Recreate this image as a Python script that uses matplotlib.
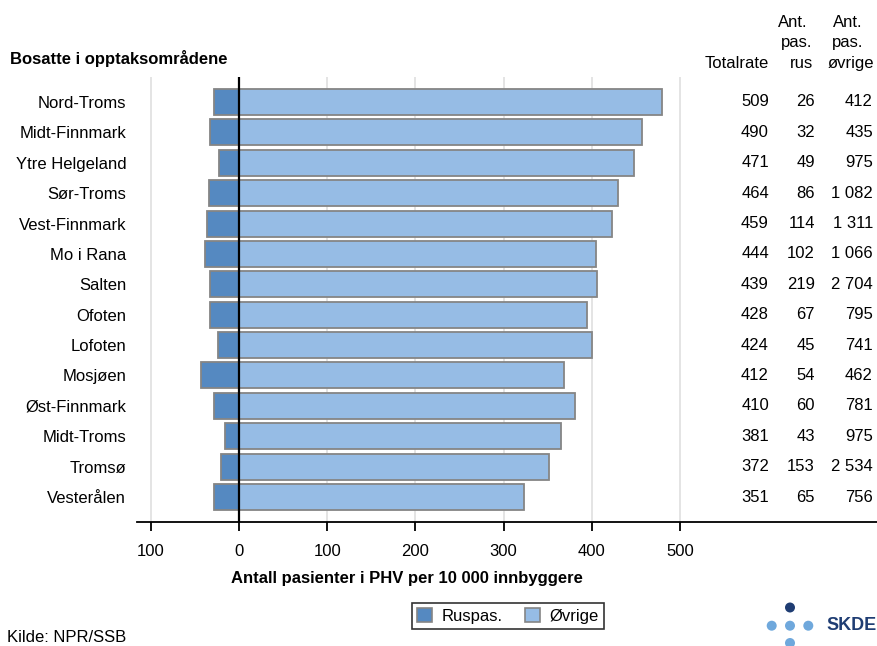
import matplotlib
matplotlib.use("Agg")
import matplotlib.pyplot as plt
from matplotlib.patches import Patch, Ellipse
from matplotlib.ticker import FixedLocator, FixedFormatter

plt.rcParams["font.family"] = ["Liberation Sans", "DejaVu Sans"]

# Data: rates per 10 000 inhabitants and patient counts
regions = ["Nord-Troms", "Midt-Finnmark", "Ytre Helgeland", "Sør-Troms",
           "Vest-Finnmark", "Mo i Rana", "Salten", "Ofoten", "Lofoten",
           "Mosjøen", "Øst-Finnmark", "Midt-Troms", "Tromsø", "Vesterålen"]
rate_rus = [29, 33, 23, 34, 36, 39, 33, 33, 24, 43, 29, 16, 21, 28]
rate_ovrige = [480, 457, 448, 430, 423, 405, 406, 395, 400, 369, 381, 365, 351, 323]
n_rus = [26, 32, 49, 86, 114, 102, 219, 67, 45, 54, 60, 43, 153, 65]
n_ovrige = [412, 435, 975, 1082, 1311, 1066, 2704, 795, 741, 462, 781, 975, 2534, 756]
tick_values = [-100, 0, 100, 200, 300, 400, 500]
tick_labels = ["100", "0", "100", "200", "300", "400", "500"]

W, H = 878, 646
FS = 12
fig = plt.figure(figsize=(W / 100, H / 100), dpi=100)

def fx(px):
    return px / W

def fy(py):
    return 1 - py / H

ax = fig.add_axes([fx(137), fy(522), fx(878) - fx(137), fy(77) - fy(522)])

dark = "#5589C1"
light = "#96BCE5"
edge = "#858585"

y = list(range(len(regions)))
ax.barh(y, [-v for v in rate_rus], height=0.855, color=dark, edgecolor=edge,
        linewidth=1.3, zorder=2)
ax.barh(y, rate_ovrige, height=0.855, color=light, edgecolor=edge,
        linewidth=1.3, zorder=2)

for g in [-100, 100, 200, 300, 400, 500]:
    ax.axvline(g, color="#DCDCDC", linewidth=1.1, zorder=0)
ax.axvline(0, color="black", linewidth=1.6, zorder=3)

ax.set_xlim(-115.9, 724.7)
ax.set_ylim(13.82, -0.82)

ax.xaxis.set_major_locator(FixedLocator(tick_values))
ax.xaxis.set_major_formatter(FixedFormatter(tick_labels))
ax.tick_params(axis="x", direction="out", length=6.5, width=1.3, pad=9,
               labelsize=FS, color="black")
ax.set_yticks(y)
ax.set_yticklabels(regions)
ax.tick_params(axis="y", length=0, pad=7.8, labelsize=FS)

for side in ["left", "right", "top"]:
    ax.spines[side].set_visible(False)
ax.spines["bottom"].set_linewidth(1.3)

# Right-hand table
col_total, col_rus, col_ovr = 601.0, 653.2, 718.9

def fmt(n):
    return f"{n:,}".replace(",", " ")

for i in y:
    total = rate_rus[i] + rate_ovrige[i]
    ax.text(col_total, i, fmt(total), ha="right", va="center", fontsize=FS)
    ax.text(col_rus, i, fmt(n_rus[i]), ha="right", va="center", fontsize=FS)
    ax.text(col_ovr, i, fmt(n_ovrige[i]), ha="right", va="center", fontsize=FS)

hdr = dict(fontsize=FS, va="baseline")
fig.text(fx(769), fy(68.3), "Totalrate", ha="right", **hdr)
fig.text(fx(793), fy(27), "Ant.", ha="center", **hdr)
fig.text(fx(797), fy(47.5), "pas.", ha="center", **hdr)
fig.text(fx(802), fy(68.3), "rus", ha="center", **hdr)
fig.text(fx(848), fy(27), "Ant.", ha="center", **hdr)
fig.text(fx(848), fy(47.5), "pas.", ha="center", **hdr)
fig.text(fx(850.5), fy(68.3), "øvrige", ha="center", **hdr)

fig.text(fx(10), fy(64.3), "Bosatte i opptaksområdene", ha="left",
         va="baseline", fontsize=FS, fontweight="bold")

fig.text(fx(407), fy(578), "Antall pasienter i PHV per 10 000 innbyggere",
         ha="center", va="center", fontsize=FS, fontweight="bold")

handles = [Patch(facecolor=dark, edgecolor=edge, linewidth=1.2, label="Ruspas."),
           Patch(facecolor=light, edgecolor=edge, linewidth=1.2, label="Øvrige")]
leg = fig.legend(handles=handles, loc="center", bbox_to_anchor=(fx(508), fy(616)),
                 ncol=2, fontsize=FS, frameon=True, fancybox=False,
                 handlelength=0.9, handleheight=0.9, handletextpad=0.6,
                 columnspacing=1.3, borderpad=0.3, borderaxespad=0)
leg.get_frame().set_edgecolor("black")
leg.get_frame().set_linewidth(1.2)

fig.text(fx(7), fy(637), "Kilde: NPR/SSB", ha="left", va="center", fontsize=FS)

# SKDE logo
r = 5.0
navy = "#1F3D73"
dot = "#6FA8DC"
for (cx, cy, c) in [(790, 607.5, navy), (771.7, 625.7, dot), (790, 625.7, dot),
                    (808.3, 625.7, dot), (790, 643, dot)]:
    fig.add_artist(Ellipse((fx(cx), fy(cy)), 2 * r / W, 2 * r / H,
                           facecolor=c, edgecolor="none"))
fig.text(fx(826), fy(626), "SKDE", ha="left", va="center", fontsize=13,
         fontweight="bold", color=navy)

fig.savefig("out.png", dpi=100)
